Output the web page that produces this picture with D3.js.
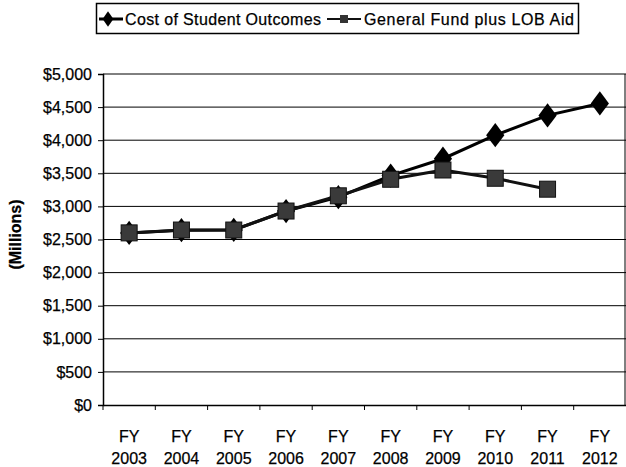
<!DOCTYPE html>
<html>
<head>
<meta charset="utf-8">
<script src="https://cdn.jsdelivr.net/npm/d3@7"></script>
<style>
  body { margin: 0; background: #fff; }
  text { font-family: 'Liberation Sans', Arial, sans-serif; fill: #000; stroke: #000; stroke-width: 0.25; }
</style>
</head>
<body>
<div id="chart"></div>
<script>
// Data ($ millions)
const years = ['2003', '2004', '2005', '2006', '2007', '2008', '2009', '2010', '2011', '2012']
const costOutcomes = [2600, 2640, 2645, 2930, 3140, 3465, 3720, 4075, 4375, 4555]
const generalFund = [2600, 2643, 2643, 2930, 3160, 3410, 3550, 3425, 3260, null]
const yTicks = [0, 500, 1000, 1500, 2000, 2500, 3000, 3500, 4000, 4500, 5000]

const W = 626
const H = 467
const margin = { top: 74, right: 0, bottom: 62, left: 103 }
const width = W - margin.left - margin.right
const height = H - margin.top - margin.bottom

const svg = d3.select('#chart')
  .append('svg')
  .attr('width', W)
  .attr('height', H)

const g = svg.append('g')
  .attr('transform', 'translate(' + margin.left + ',' + margin.top + ')')

const x = d3.scaleBand().domain(years).range([0, width])
const y = d3.scaleLinear().domain([0, 5000]).range([height, 0])

// gridlines
g.selectAll('.grid')
  .data(yTicks.slice(1))
  .enter().append('line')
  .attr('x1', 0)
  .attr('x2', width)
  .attr('y1', d => y(d))
  .attr('y2', d => y(d))
  .attr('stroke', '#000')
  .attr('stroke-width', 1)

// right border
g.append('line')
  .attr('x1', width - 1).attr('x2', width - 1)
  .attr('y1', 0).attr('y2', height)
  .attr('stroke', '#000')

// y axis
const yAxis = g.append('g')
  .call(d3.axisLeft(y).tickValues(yTicks).tickSize(5).tickPadding(6)
    .tickFormat(d => '$' + d3.format(',')(d)))
yAxis.select('.domain').attr('stroke', '#000').attr('stroke-width', 1.5)
yAxis.selectAll('text').attr('font-size', 16)

// x axis, ticks at the band edges
const xAxis = g.append('g')
  .attr('transform', 'translate(0,' + height + ')')
  .call(d3.axisBottom(x).tickSize(0).tickFormat(''))
xAxis.select('.domain').attr('stroke', '#000').attr('stroke-width', 1.5)

g.selectAll('.xtick')
  .data(years)
  .enter().append('line')
  .attr('x1', d => x(d))
  .attr('x2', d => x(d))
  .attr('y1', height)
  .attr('y2', height + 5)
  .attr('stroke', '#000')

const xl = g.selectAll('.xlab')
  .data(years)
  .enter().append('text')
  .attr('text-anchor', 'middle')
  .attr('font-size', 16)
xl.append('tspan')
  .attr('x', d => x(d) + x.bandwidth() / 2)
  .attr('y', height + 37)
  .text('FY')
xl.append('tspan')
  .attr('x', d => x(d) + x.bandwidth() / 2)
  .attr('y', height + 59)
  .text(d => d)

// y label
svg.append('text')
  .attr('transform', 'translate(21,' + (margin.top + height / 2 - 5) + ') rotate(-90)')
  .attr('text-anchor', 'middle')
  .attr('font-size', 16)
  .attr('font-weight', 'bold')
  .text('(Millions)')

// lines
const cx = (d, i) => x(years[i]) + x.bandwidth() / 2
const line = d3.line()
  .defined(d => d !== null)
  .x(cx)
  .y(d => y(d))

g.append('path')
  .datum(costOutcomes)
  .attr('fill', 'none')
  .attr('stroke', '#000')
  .attr('stroke-width', 3)
  .attr('d', line)

const diamond = d3.symbol().type(d3.symbolDiamond).size(170)
g.selectAll('.dia')
  .data(costOutcomes)
  .enter().append('path')
  .attr('transform', (d, i) => 'translate(' + cx(d, i) + ',' + y(d) + ') scale(1.3,1)')
  .attr('d', diamond)
  .attr('fill', '#000')

g.append('path')
  .datum(generalFund)
  .attr('fill', 'none')
  .attr('stroke', '#111')
  .attr('stroke-width', 3)
  .attr('d', line)

g.selectAll('.sq')
  .data(generalFund.map((v, i) => ({ v, i })).filter(d => d.v !== null))
  .enter().append('rect')
  .attr('x', d => cx(d.v, d.i) - 8)
  .attr('y', d => y(d.v) - 8)
  .attr('width', 16)
  .attr('height', 16)
  .attr('fill', '#3a3a3a')
  .attr('stroke', '#111')
  .attr('stroke-width', 1)

// legend
const leg = svg.append('g')
leg.append('rect')
  .attr('x', 96.5).attr('y', 3.5)
  .attr('width', 482).attr('height', 30)
  .attr('fill', '#fff')
  .attr('stroke', '#000')
  .attr('stroke-width', 1.5)

leg.append('line')
  .attr('x1', 99).attr('x2', 123).attr('y1', 19).attr('y2', 19)
  .attr('stroke', '#000').attr('stroke-width', 3)
leg.append('path')
  .attr('transform', 'translate(108,19) scale(1.2,1)')
  .attr('d', d3.symbol().type(d3.symbolDiamond).size(70))
  .attr('fill', '#000')
leg.append('text')
  .attr('x', 125).attr('y', 25)
  .attr('font-size', 16)
  .attr('textLength', 196)
  .attr('lengthAdjust', 'spacing')
  .text('Cost of Student Outcomes')

leg.append('line')
  .attr('x1', 327).attr('x2', 361).attr('y1', 19).attr('y2', 19)
  .attr('stroke', '#111').attr('stroke-width', 2)
leg.append('rect')
  .attr('x', 340).attr('y', 15).attr('width', 8).attr('height', 8)
  .attr('fill', '#333')
leg.append('text')
  .attr('x', 364).attr('y', 25)
  .attr('font-size', 16)
  .attr('textLength', 210)
  .attr('lengthAdjust', 'spacing')
  .text('General Fund plus LOB Aid')
</script>
</body>
</html>
